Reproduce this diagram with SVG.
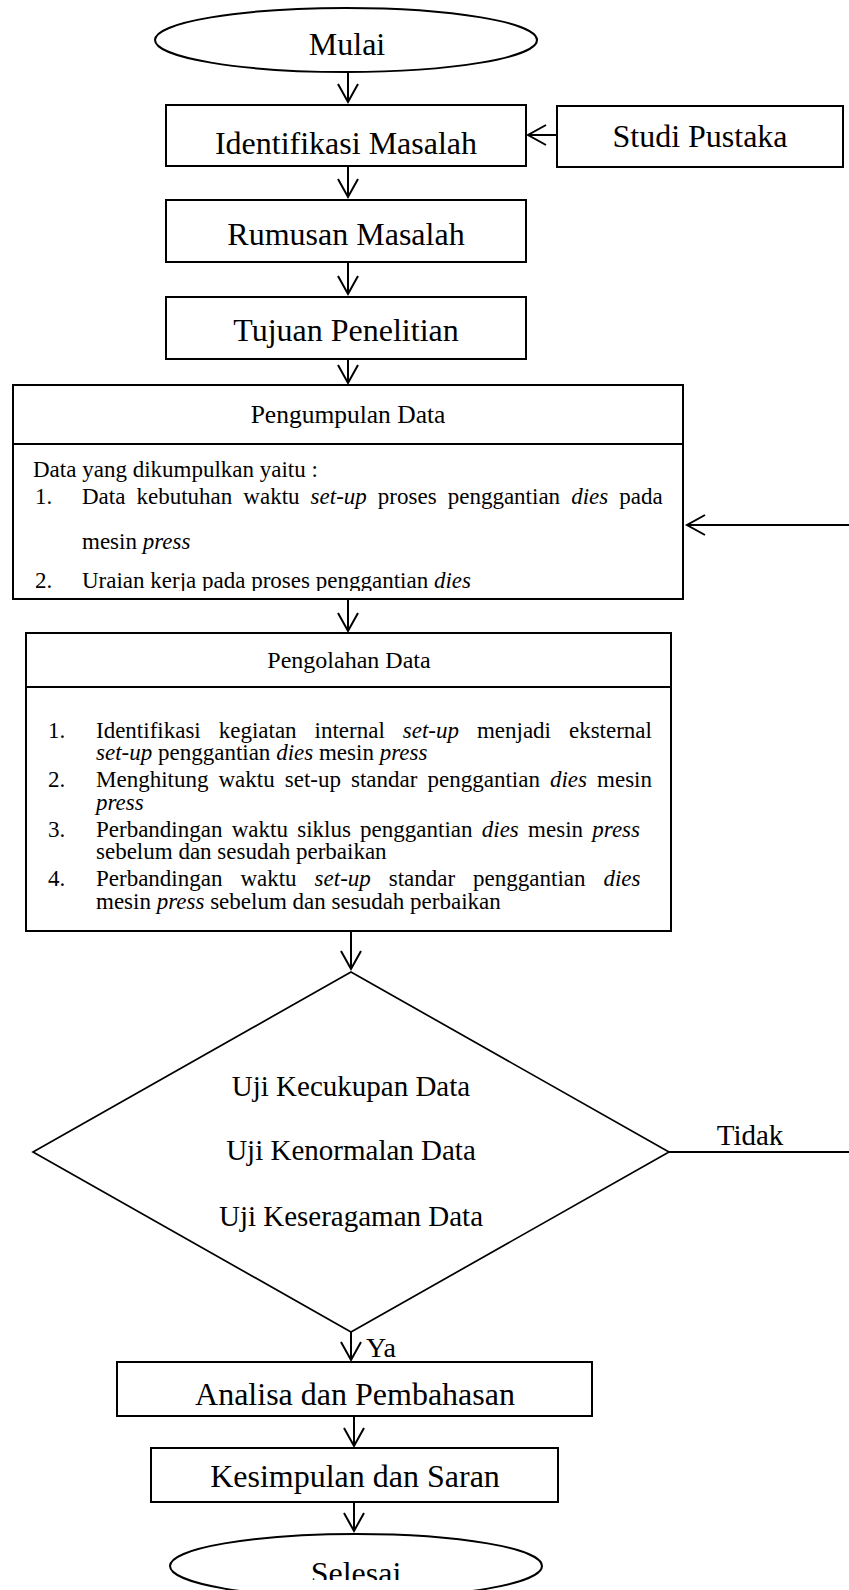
<svg xmlns="http://www.w3.org/2000/svg" width="849" height="1590" viewBox="0 0 849 1590">
<style>
.box{fill:#fff;stroke:#000;stroke-width:2}
.dia{fill:#fff;stroke:#000;stroke-width:1.7}
.ln{fill:none;stroke:#000;stroke-width:2;marker-end:url(#ah)}
.pl{fill:none;stroke:#000;stroke-width:2}
text{font-family:"Liberation Serif","Times New Roman",serif;fill:#000}
.big{font-size:32px;text-anchor:middle}
.mid{font-size:24px;text-anchor:middle}
.body{font-size:23px}
.uji{font-size:29px;text-anchor:middle}
.i{font-style:italic}
</style>
<defs>
<marker id="ah" markerUnits="userSpaceOnUse" markerWidth="24" markerHeight="26" viewBox="-20 -12 24 24" refX="0" refY="0" orient="auto">
<path d="M-18,-10 L0,0 L-18,10" fill="none" stroke="#000" stroke-width="2"/>
</marker>
<clipPath id="c1"><rect x="13" y="445" width="670" height="146"/></clipPath>
<clipPath id="c2"><rect x="0" y="1500" width="849" height="80"/></clipPath>
</defs>
<rect width="849" height="1590" fill="#fff"/>

<g id="connectors">
<line class="ln" x1="348" y1="72" x2="348" y2="102"/>
<line class="ln" x1="557" y1="135" x2="528" y2="135"/>
<line class="ln" x1="348" y1="167" x2="348" y2="197"/>
<line class="ln" x1="348" y1="263" x2="348" y2="294"/>
<line class="ln" x1="348" y1="359" x2="348" y2="383"/>
<line class="ln" x1="348" y1="599" x2="348" y2="631"/>
<line class="ln" x1="351" y1="931" x2="351" y2="969"/>
<path class="ln" d="M669,1152 L853,1152 L853,525 L687,525"/>
<line class="ln" x1="351" y1="1332" x2="351" y2="1360"/>
<line class="ln" x1="354" y1="1416" x2="354" y2="1446"/>
<line class="ln" x1="354" y1="1502" x2="354" y2="1531"/>
<text x="750" y="1145" class="uji">Tidak</text>
<text x="366" y="1357" style="font-size:28px">Ya</text>
</g>

<g id="mulai">
<ellipse class="box" cx="346" cy="40" rx="191" ry="32"/>
<text x="347" y="55" class="big">Mulai</text>
</g>

<g id="identifikasi">
<rect class="box" x="166" y="105" width="360" height="61"/>
<text x="346" y="154" class="big">Identifikasi Masalah</text>
</g>

<g id="studi">
<rect class="box" x="557" y="106" width="286" height="61"/>
<text x="700" y="147" class="big">Studi Pustaka</text>
</g>

<g id="rumusan">
<rect class="box" x="166" y="200" width="360" height="62"/>
<text x="346" y="245" class="big">Rumusan Masalah</text>
</g>

<g id="tujuan">
<rect class="box" x="166" y="297" width="360" height="62"/>
<text x="346" y="341" class="big">Tujuan Penelitian</text>
</g>

<g id="pengumpulan">
<rect class="box" x="13" y="385" width="670" height="214"/>
<line class="pl" x1="13" y1="444" x2="683" y2="444"/>
<text x="348" y="423" class="mid" style="font-size:25.5px">Pengumpulan Data</text>
<g clip-path="url(#c1)">
<text x="33" y="477" class="body">Data yang dikumpulkan yaitu :</text>
<text x="35" y="504" class="body">1.</text>
<text x="82" y="504" class="body" word-spacing="5.3">Data kebutuhan waktu <tspan class="i">set-up</tspan> proses penggantian <tspan class="i">dies</tspan> pada</text>
<text x="82" y="549" class="body">mesin <tspan class="i">press</tspan></text>
<text x="35" y="588" class="body">2.</text>
<text x="82" y="588" class="body">Uraian kerja pada proses penggantian <tspan class="i">dies</tspan></text>
</g>
</g>

<g id="pengolahan">
<rect class="box" x="26" y="633" width="645" height="298"/>
<line class="pl" x1="26" y1="687" x2="671" y2="687"/>
<text x="349" y="668" class="mid">Pengolahan Data</text>
<text x="48" y="738" class="body">1.</text>
<text x="96" y="738" class="body" word-spacing="12.2">Identifikasi kegiatan internal <tspan class="i">set-up</tspan> menjadi eksternal</text>
<text x="96" y="760" class="body"><tspan class="i">set-up</tspan> penggantian <tspan class="i">dies</tspan> mesin <tspan class="i">press</tspan></text>
<text x="48" y="787" class="body">2.</text>
<text x="96" y="787" class="body" word-spacing="4.3">Menghitung waktu set-up standar penggantian <tspan class="i">dies</tspan> mesin</text>
<text x="96" y="810" class="body"><tspan class="i">press</tspan></text>
<text x="48" y="837" class="body">3.</text>
<text x="96" y="837" class="body" word-spacing="3.5">Perbandingan waktu siklus penggantian <tspan class="i">dies</tspan> mesin <tspan class="i">press</tspan></text>
<text x="96" y="859" class="body">sebelum dan sesudah perbaikan</text>
<text x="48" y="886" class="body">4.</text>
<text x="96" y="886" class="body" word-spacing="12.2">Perbandingan waktu <tspan class="i">set-up</tspan> standar penggantian <tspan class="i">dies</tspan></text>
<text x="96" y="909" class="body">mesin <tspan class="i">press</tspan> sebelum dan sesudah perbaikan</text>
</g>

<g id="uji">
<polygon class="dia" points="351,972 669,1152 351,1332 33,1152"/>
<text x="351" y="1096" class="uji">Uji Kecukupan Data</text>
<text x="351" y="1160" class="uji">Uji Kenormalan Data</text>
<text x="351" y="1226" class="uji">Uji Keseragaman Data</text>
</g>

<g id="analisa">
<rect class="box" x="117" y="1362" width="475" height="54"/>
<text x="355" y="1405" class="big">Analisa dan Pembahasan</text>
</g>

<g id="kesimpulan">
<rect class="box" x="151" y="1448" width="407" height="54"/>
<text x="355" y="1487" class="big">Kesimpulan dan Saran</text>
</g>

<g id="selesai">
<ellipse class="box" cx="356" cy="1566" rx="186" ry="32"/>
<text x="356" y="1584" class="big" clip-path="url(#c2)">Selesai</text>
</g>
</svg>
